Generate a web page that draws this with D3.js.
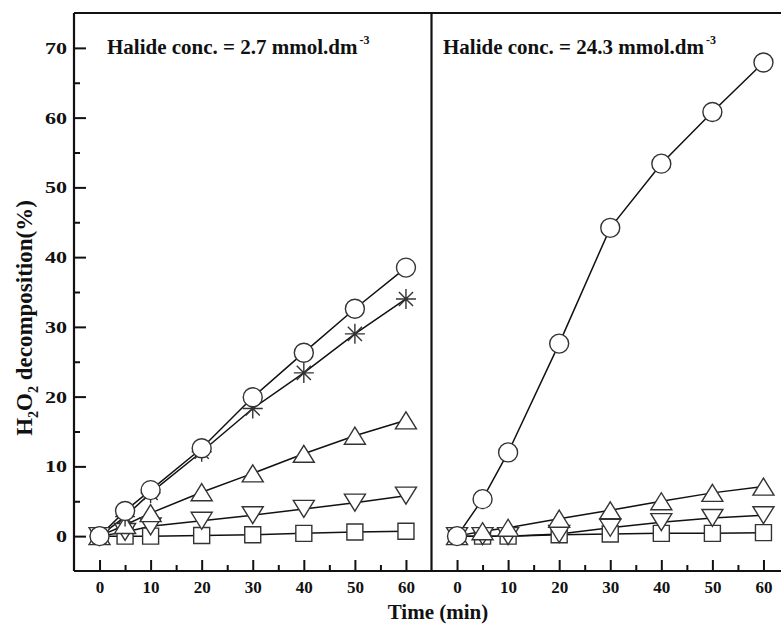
<!DOCTYPE html>
<html>
<head>
<meta charset="utf-8">
<script src="https://cdn.jsdelivr.net/npm/d3@7"></script>
<style>
  html, body { margin: 0; padding: 0; background: #fff; }
  svg { display: block; }
  text { font-family: "Liberation Serif", "Times New Roman", serif; font-weight: bold; fill: #111; }
</style>
</head>
<body>
<script>
// ---------- data ----------
const times = [0, 5, 10, 20, 30, 40, 50, 60];
const xTickValues = [0, 10, 20, 30, 40, 50, 60];
const yTickValues = [0, 10, 20, 30, 40, 50, 60, 70];
const panelTitles = ["Halide conc. = 2.7 mmol.dm", "Halide conc. = 24.3 mmol.dm"];
const titleSup = "-3";
const xAxisTitle = "Time (min)";

// left panel (2.7 mmol.dm-3)
const leftCircle = [0, 3.6, 6.6, 12.6, 19.9, 26.3, 32.6, 38.5];
const leftStar   = [0, 2.8, 6.2, 12.1, 18.3, 23.4, 29.0, 34.0];
const leftUp     = [0, 1.6, 3.3, 6.3, 9.0, 11.8, 14.4, 16.6];
const leftDown   = [0, 0.6, 1.4, 2.2, 3.0, 3.9, 4.8, 5.8];
const leftSquare = [0, 0, 0, 0.1, 0.2, 0.4, 0.6, 0.7];

// right panel (24.3 mmol.dm-3)
const rightCircle = [0, 5.3, 12.0, 27.6, 44.2, 53.4, 60.8, 67.9];
const rightUp     = [0, 0.7, 1.2, 2.5, 3.7, 5.0, 6.2, 7.1];
const rightDown   = [0, 0, 0, 0.3, 1.2, 2.0, 2.6, 3.0];
const rightSquare = [0, 0, 0, 0.2, 0.3, 0.4, 0.4, 0.5];

// ---------- layout ----------
const W = 781, H = 626;
const plotTop = 13, plotBottom = 571, plotLeft = 74, plotMid = 431.5, plotRight = 789;

const svg = d3.select("body").append("svg").attr("width", W).attr("height", H);

const y = d3.scaleLinear().domain([-5, 75]).range([plotBottom, plotTop]);
const xL = d3.scaleLinear().domain([-5, 65]).range([plotLeft, plotMid]);
const xR = d3.scaleLinear().domain([-5, 65]).range([plotMid, plotRight]);

const markerStroke = "#333";

function symbolPath(type) {
  switch (type) {
    case "circle": { const p = d3.path(); p.arc(0, 0, 9.5, 0, 2 * Math.PI); return p.toString(); }
    case "square": return "M-8,-8H8V8H-8Z";
    case "up": return "M0,-8.5L10.5,8.5L-10.5,8.5Z";
    case "down": return "M0,8.5L10.5,-8.5L-10.5,-8.5Z";
    case "star": {
      const r = 10, d = r * Math.SQRT1_2;
      return `M${-r},0H${r}M0,${-r}V${r}M${-d},${-d}L${d},${d}M${-d},${d}L${d},${-d}`;
    }
  }
}

function drawPanel(x, seriesList) {
  const g = svg.append("g");
  const line = d3.line().x((d, i) => x(times[i])).y(d => y(d));
  seriesList.forEach(s => {
    g.append("path").datum(s.values).attr("d", line)
      .attr("fill", "none").attr("stroke", "#111").attr("stroke-width", 1.5);
  });
  seriesList.forEach(s => {
    g.selectAll(null).data(s.values).enter().append("path")
      .attr("transform", (d, i) => `translate(${x(times[i])},${y(d)})`)
      .attr("d", symbolPath(s.type))
      .attr("fill", s.type === "star" ? "none" : "#fff")
      .attr("stroke", markerStroke).attr("stroke-width", 1.4);
  });
}

drawPanel(xL, [
  { type: "square", values: leftSquare },
  { type: "down", values: leftDown },
  { type: "up", values: leftUp },
  { type: "star", values: leftStar },
  { type: "circle", values: leftCircle }
]);
drawPanel(xR, [
  { type: "square", values: rightSquare },
  { type: "down", values: rightDown },
  { type: "up", values: rightUp },
  { type: "circle", values: rightCircle }
]);

// ---------- axes ----------
function styleTicks(g, fs) {
  g.attr("font-family", null).attr("font-size", null);
  g.select(".domain").remove();
  g.selectAll(".tick line").attr("stroke", "#111").attr("stroke-width", 2);
  g.selectAll(".tick text").style("font-size", fs + "px").attr("fill", "#111");
}
function xAxisFor(x) {
  const major = d3.axisBottom(x).tickValues(xTickValues).tickSizeInner(-11).tickSizeOuter(0).tickPadding(10);
  styleTicks(svg.append("g").attr("transform", `translate(0,${plotBottom})`).call(major), 17);
  const minor = d3.axisBottom(x).tickValues([5, 15, 25, 35, 45, 55]).tickSizeInner(-6).tickSizeOuter(0).tickFormat("");
  styleTicks(svg.append("g").attr("transform", `translate(0,${plotBottom})`).call(minor), 17);
}
xAxisFor(xL);
xAxisFor(xR);

{
  const major = d3.axisLeft(y).tickValues(yTickValues).tickSizeInner(-12).tickSizeOuter(0).tickPadding(8);
  const g = svg.append("g").attr("transform", `translate(${plotLeft},0)`).call(major);
  styleTicks(g, 17);
  // reference's y tick numbers are drawn a little wider
  g.selectAll(".tick text").attr("x", 0).attr("transform", "translate(-7,0) scale(1.3,1)");
  const minor = d3.axisLeft(y).tickValues([5, 15, 25, 35, 45, 55, 65]).tickSizeInner(-6).tickSizeOuter(0).tickFormat("");
  styleTicks(svg.append("g").attr("transform", `translate(${plotLeft},0)`).call(minor), 17);
}

// frame
const frame = svg.append("g").attr("stroke", "#111").attr("stroke-width", 2.2).attr("fill", "none");
frame.append("line").attr("x1", plotLeft).attr("x2", W + 5).attr("y1", plotTop).attr("y2", plotTop);
frame.append("line").attr("x1", plotLeft).attr("x2", W + 5).attr("y1", plotBottom).attr("y2", plotBottom);
frame.append("line").attr("x1", plotLeft).attr("x2", plotLeft).attr("y1", plotTop).attr("y2", plotBottom);
frame.append("line").attr("x1", plotMid).attr("x2", plotMid).attr("y1", plotTop).attr("y2", plotBottom);

// panel titles
function panelTitle(xPos, txt) {
  const t = svg.append("text").attr("x", xPos).attr("y", 54).style("font-size", "21px");
  t.append("tspan").text(txt);
  t.append("tspan").attr("dy", -10).attr("dx", 2).style("font-size", "12px").text(titleSup);
}
panelTitle(107, panelTitles[0]);
panelTitle(443, panelTitles[1]);

// x axis title
svg.append("text").attr("x", 438).attr("y", 619).attr("text-anchor", "middle")
  .style("font-size", "21px").text(xAxisTitle);

// y axis title
{
  const t = svg.append("text").attr("transform", "translate(32,318) rotate(-90)")
    .attr("text-anchor", "middle").style("font-size", "23px");
  t.append("tspan").text("H");
  t.append("tspan").style("font-size", "14px").attr("dy", 6).text("2");
  t.append("tspan").attr("dy", -6).text("O");
  t.append("tspan").style("font-size", "14px").attr("dy", 6).text("2");
  t.append("tspan").attr("dy", -6).text(" decomposition(%)");
}
</script>
</body>
</html>
